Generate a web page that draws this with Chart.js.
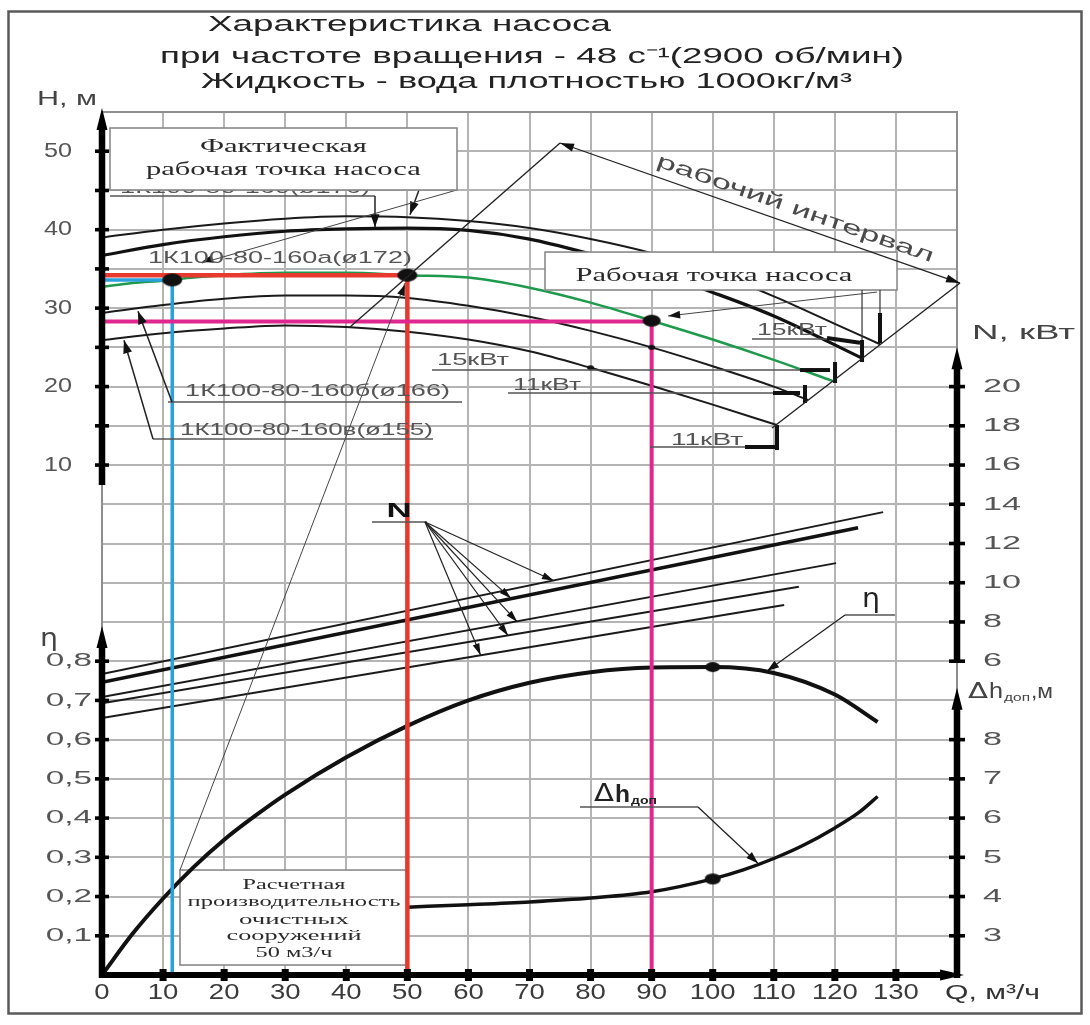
<!DOCTYPE html>
<html lang="ru">
<head>
<meta charset="utf-8">
<title>Характеристика насоса 1К100-80-160</title>
<script src="https://cdn.jsdelivr.net/npm/chart.js@4.4.1/dist/chart.umd.min.js"></script>
<style>
  html, body { margin: 0; padding: 0; background: #ffffff; }
  #wrap { width: 1090px; height: 1025px; }
  canvas { display: block; }
</style>
</head>
<body>
<div id="wrap"><canvas id="pump" width="1090" height="1025"></canvas></div>
<script>
// ===== Tick labels =====
const qTicks   = [0, 10, 20, 30, 40, 50, 60, 70, 80, 90, 100, 110, 120, 130];
const hTicks   = [10, 20, 30, 40, 50];
const etaTicks = [0.1, 0.2, 0.3, 0.4, 0.5, 0.6, 0.7, 0.8];
const nTicks   = [6, 8, 10, 12, 14, 16, 18, 20];
const dhTicks  = [3, 4, 5, 6, 7, 8];

// ===== H-Q curves (H, m) =====
const qTopA = [0, 10, 20, 30, 40, 50, 60, 70, 80, 90, 100, 110, 120, 127.4];
const hTopA = [39.0, 40.0, 40.8, 41.4, 41.7, 41.6, 41.1, 40.2, 38.8, 37.0, 34.6, 31.5, 28.0, 25.4];
const qTopB = [0, 10, 20, 30, 40, 50, 60, 70, 80, 90, 100, 110, 124.5];
const hTopB = [36.7, 38.1, 39.1, 39.8, 40.1, 40.2, 39.9, 38.8, 36.9, 34.7, 32.0, 29.0, 23.6];
const qD172 = [0, 5, 10, 15, 20, 30, 40, 50, 60, 70, 80, 90, 100, 110, 119.7];
const hD172 = [32.7, 33.2, 33.5, 33.9, 34.2, 34.5, 34.5, 34.2, 33.9, 32.6, 30.7, 28.4, 26.0, 23.4, 20.7];
const qD166 = [0, 10, 20, 30, 40, 50, 60, 70, 80, 90, 100, 110, 115.6];
const hD166 = [29.4, 30.4, 31.2, 31.6, 31.6, 31.3, 30.3, 28.9, 27.1, 25.0, 22.6, 20.0, 18.3];
const qD155 = [0, 10, 20, 30, 40, 50, 60, 70, 80, 90, 100, 110.5];
const hD155 = [25.9, 26.8, 27.4, 27.8, 27.6, 27.0, 26.0, 24.5, 22.4, 20.1, 17.7, 15.1];

// ===== Power lines N (kW) =====
const qN1 = [0, 127.9]; const vN1 = [5.35, 13.6];
const qN2 = [0, 123.8]; const vN2 = [4.93, 12.8];
const qN3 = [0, 120.2]; const vN3 = [4.17, 11.0];
const qN4 = [0, 114.1]; const vN4 = [3.86, 9.8];
const qN5 = [0, 111.7]; const vN5 = [3.1, 8.86];

// ===== Efficiency η =====
const qEta = [0, 5, 10, 15, 20, 25, 30, 40, 50, 60, 70, 80, 90, 100, 110, 120, 127];
const vEta = [0, 0.105, 0.195, 0.275, 0.345, 0.405, 0.46, 0.555, 0.635, 0.70, 0.745, 0.772, 0.784, 0.785, 0.77, 0.715, 0.645];

// ===== NPSH Δh доп (m) =====
const qDh = [50, 60, 70, 80, 90, 100, 105, 110, 115, 120, 124, 127];
const vDh = [3.73, 3.79, 3.86, 3.96, 4.12, 4.45, 4.68, 4.97, 5.32, 5.75, 6.15, 6.55];

// ===== Operating point lines (Q, H) =====
const qBlue = [0, 11.5, 11.5];  const hBlue = [33.6, 33.6, -55];
const qRed  = [0, 50, 50];      const hRed  = [34.2, 34.2, -55];
const qMag  = [0, 90, 90];      const hMag  = [28.3, 28.3, -55];

// ===== Marked points =====
const qOp = [11.5, 50];   const hOp = [33.6, 34.2];
const qWork = [90];       const hWork = [28.4];
const qEtaDot = [100];    const vEtaDot = [0.785];
const qDhDot = [100];     const vDhDot = [4.45];
const qSmall = [80, 90];  const hSmall = [22.4, 25.0];

// ---------- helpers ----------
const pts = (qs, vs) => qs.map((q, i) => ({ x: q, y: vs[i] }));
function ellipse(w, h) {
  const c = document.createElement('canvas');
  c.width = w + 2; c.height = h + 2;
  const g = c.getContext('2d');
  g.fillStyle = '#111';
  g.beginPath(); g.ellipse((w + 2) / 2, (h + 2) / 2, w / 2, h / 2, 0, 0, Math.PI * 2); g.fill();
  return c;
}
function lineDs(label, qs, vs, axis, color, width, order, smooth) {
  return { label, data: pts(qs, vs), yAxisID: axis, borderColor: color, borderWidth: width,
    pointRadius: 0, fill: false, tension: 0, order,
    cubicInterpolationMode: smooth ? 'monotone' : 'default', borderCapStyle: 'butt' };
}
function dotDs(label, qs, vs, axis, w, h, order) {
  return { label, data: pts(qs, vs), yAxisID: axis, showLine: false, pointStyle: ellipse(w, h),
    pointRadius: 6, borderWidth: 0, order };
}

// ---------- horizontally stretched tick labels ----------
const STRETCH = { x: 1.25, yH: 1.2, yEta: 1.75, yN: 1.8, yDh: 1.8 };
class WideLinearScale extends Chart.LinearScale {
  drawLabels(chartArea) {
    if (!this.options.ticks.display) return;
    const ctx = this.ctx;
    const sx = STRETCH[this.id] || 1;
    const items = this.getLabelItems(chartArea);
    for (const it of items) {
      const o = it.options;
      const label = Array.isArray(it.label) ? it.label.join(' ') : String(it.label);
      if (!label) continue;
      ctx.save();
      ctx.translate(o.translation[0], o.translation[1]);
      if (o.rotation) ctx.rotate(o.rotation);
      ctx.scale(sx, 1);
      ctx.font = it.font.string;
      ctx.fillStyle = o.color;
      ctx.textAlign = o.textAlign;
      ctx.textBaseline = o.textBaseline;
      ctx.fillText(label, 0, it.textOffset);
      ctx.restore();
    }
  }
}
WideLinearScale.id = 'wideLinear';
WideLinearScale.defaults = Chart.LinearScale.defaults;
Chart.register(WideLinearScale);

function T(ctx, s, x, y, font, w, color, align) {
  ctx.save();
  ctx.font = font;
  const m = ctx.measureText(s).width;
  const sx = w ? w / m : 1;
  ctx.translate(x, y); ctx.scale(sx, 1);
  ctx.textAlign = align || 'left'; ctx.textBaseline = 'middle';
  ctx.fillStyle = color || '#222';
  ctx.fillText(s, 0, 0);
  ctx.restore();
}
function seg(ctx, x1, y1, x2, y2, w, color) {
  ctx.save(); ctx.strokeStyle = color || '#222'; ctx.lineWidth = w || 1.3; ctx.lineCap = 'butt';
  ctx.beginPath(); ctx.moveTo(x1, y1); ctx.lineTo(x2, y2); ctx.stroke(); ctx.restore();
}
function head(ctx, x1, y1, x2, y2, L, W, color) {
  L = L || 12; W = W || 4;
  const a = Math.atan2(y2 - y1, x2 - x1), c = Math.cos(a), s = Math.sin(a);
  ctx.save(); ctx.fillStyle = color || '#111'; ctx.beginPath();
  ctx.moveTo(x2, y2);
  ctx.lineTo(x2 - L * c + W * s, y2 - L * s - W * c);
  ctx.lineTo(x2 - L * c - W * s, y2 - L * s + W * c);
  ctx.closePath(); ctx.fill(); ctx.restore();
}
function arrow(ctx, x1, y1, x2, y2, w, L, W) { seg(ctx, x1, y1, x2, y2, w || 1.3, '#222'); head(ctx, x1, y1, x2, y2, L, W); }
function box(ctx, x1, y1, x2, y2) {
  ctx.save(); ctx.fillStyle = '#fff'; ctx.fillRect(x1, y1, x2 - x1, y2 - y1);
  ctx.strokeStyle = '#8a8a8a'; ctx.lineWidth = 1.6; ctx.strokeRect(x1, y1, x2 - x1, y2 - y1); ctx.restore();
}
function vAxis(ctx, x, yb, yt) {
  seg(ctx, x, yb, x, yt + 16, 6.5, '#000');
  ctx.save(); ctx.fillStyle = '#000'; ctx.beginPath();
  ctx.moveTo(x, yt); ctx.lineTo(x - 5.5, yt + 22); ctx.lineTo(x + 5.5, yt + 22); ctx.closePath(); ctx.fill(); ctx.restore();
}

const annot = {
  id: 'annot',
  beforeDatasetsDraw(chart) {
    const ctx = chart.ctx, s = chart.scales;
    const X = v => s.x.getPixelForValue(v), Y = v => s.yH.getPixelForValue(v);
    box(ctx, X(12.77), Y(-41.62), X(50.1), Y(-53.73));
  },
  afterDatasetsDraw(chart) {
    const ctx = chart.ctx, s = chart.scales;
    const X = v => s.x.getPixelForValue(v);
    const Y = v => s.yH.getPixelForValue(v);
    const YE = v => s.yEta.getPixelForValue(v);
    const YN = v => s.yN.getPixelForValue(v);
    const YD = v => s.yDh.getPixelForValue(v);
    const x0 = X(0), x1 = X(140), yTop = Y(55), yBot = Y(-55);
    const serif = 'Liberation Serif', sans = 'Liberation Sans';

    // frame
    ctx.save(); ctx.strokeStyle = '#8e8e8e'; ctx.lineWidth = 2;
    ctx.beginPath(); ctx.moveTo(x0, yBot); ctx.lineTo(x0, yTop); ctx.lineTo(x1, yTop); ctx.lineTo(x1, yBot); ctx.stroke(); ctx.restore();

    // thick axes with arrows
    vAxis(ctx, x0, Y(7.45), Y(55.5));
    vAxis(ctx, x0, YE(0) + 3, YE(0.89));
    vAxis(ctx, x1, YN(6), YN(22));
    vAxis(ctx, x1, YD(2) + 3, YD(9.32));
    seg(ctx, x0 - 3, yBot, X(140.5) - 16, yBot, 6, '#000');
    ctx.save(); ctx.fillStyle = '#000'; ctx.beginPath();
    ctx.moveTo(X(140.5) + 4, yBot); ctx.lineTo(X(140.5) - 20, yBot - 5.5); ctx.lineTo(X(140.5) - 20, yBot + 5.5); ctx.closePath(); ctx.fill(); ctx.restore();

    // tick marks on axes (at the library's grid ticks)
    ctx.save(); ctx.fillStyle = '#000';
    for (const t of s.yEta.ticks) {
      const y = YE(t.value);
      const h = s.yH.getValueForPixel(y), n = s.yN.getValueForPixel(y), d = s.yDh.getValueForPixel(y);
      if ((t.value > 0.05 && t.value < 0.85) || (h > 9.9 && h < 50.1)) ctx.fillRect(x0 - 7, y - 1.8, 14, 3.6);
      if ((n > 5.9 && n < 20.1) || (d > 2.9 && d < 8.1)) ctx.fillRect(x1 - 8, y - 1.8, 16, 3.6);
    }
    for (const q of qTicks) { if (q > 0) ctx.fillRect(X(q) - 3.5, yBot - 6, 7, 12); }
    ctx.restore();

    // ---- calc box text + leader ----
    const calcLines = ['Расчетная', 'производительность', 'очистных', 'сооружений', '50 м3/ч'];
    const calcH = [-43.53, -45.7, -48.0, -50.04, -52.2];
    const calcW = [103, 213, 110, 135, 77];
    calcLines.forEach((t, i) => T(ctx, t, X(31.44), Y(calcH[i]), '15px ' + serif, calcW[i], '#2a2a2a', 'center'));
    seg(ctx, X(12.77), Y(-41.62), X(49.6), Y(33.2), 1, '#444');
    head(ctx, X(12.77), Y(-41.62), X(49.6), Y(33.0), 11, 4);

    // ---- hidden label under "Фактическая" box ----
    T(ctx, '1К100-80-160(ø176)', X(2.95), Y(45.25), '17px ' + sans, 250, '#555');
    seg(ctx, X(1.31), Y(44.29), X(44.7), Y(44.29), 1.5, '#555');
    arrow(ctx, X(44.7), Y(44.29), X(44.7), Y(40.3), 1.5, 13, 4.5);
    arrow(ctx, X(51.9), Y(45.06), X(50.43), Y(41.9), 1.5, 13, 4.5);
    // ø172 leader
    seg(ctx, X(58.13), Y(45.06), X(16.37), Y(35.75), 1, '#444');
    head(ctx, X(58.13), Y(45.06), X(16.37), Y(35.9), 11, 4);

    // ---- "Фактическая рабочая точка насоса" box ----
    box(ctx, X(1.31), Y(52.96), X(58.13), Y(45.06));
    T(ctx, 'Фактическая', X(29.7), Y(50.54), '19px ' + serif, 167, '#2a2a2a', 'center');
    T(ctx, 'рабочая точка насоса', X(29.7), Y(47.6), '19px ' + serif, 275, '#2a2a2a', 'center');

    // ---- curve labels ----
    T(ctx, '1К100-80-160а(ø172)', X(7.53), Y(36.39), '17px ' + sans, 264, '#555');
    T(ctx, '1К100-80-160б(ø166)', X(13.6), Y(19.44), '17px ' + sans, 265, '#555');
    seg(ctx, X(10.81), Y(18.03), X(58.95), Y(18.03), 1.5, '#555');
    arrow(ctx, X(11.46), Y(18.03), X(5.89), Y(29.6), 1.5, 13, 4.5);
    T(ctx, '1К100-80-160в(ø155)', X(12.77), Y(14.46), '17px ' + sans, 253, '#555');
    seg(ctx, X(8.35), Y(13.32), X(54.2), Y(13.32), 1.5, '#555');
    arrow(ctx, X(8.35), Y(13.32), X(3.6), Y(25.9), 1.5, 13, 4.5);

    // ---- "Рабочая точка насоса" box ----
    box(ctx, X(72.54), Y(37.15), X(130.18), Y(32.31));
    T(ctx, 'Рабочая точка насоса', X(100.2), Y(34.1), '19px ' + serif, 277, '#2a2a2a', 'center');
    seg(ctx, X(126.9), Y(32.05), X(92.7), Y(29.0), 1, '#444');
    head(ctx, X(126.9), Y(32.05), X(92.7), Y(29.0), 12, 4);
    seg(ctx, X(127.39), Y(32.31), X(127.39), Y(29.38), 1.2, '#333');
    seg(ctx, X(127.39), Y(29.38), X(127.39), Y(25.55), 4, '#111');
    seg(ctx, X(124.45), Y(32.31), X(124.45), Y(25.94), 1.2, '#333');
    seg(ctx, X(124.45), Y(25.94), X(124.45), Y(23.13), 4, '#111');

    // ---- power labels (кВт) ----
    T(ctx, '15кВт', X(54.86), Y(23.26), '16px ' + sans, 72, '#555');
    seg(ctx, X(54.04), Y(22.11), X(114.3), Y(22.11), 1.5, '#555');
    seg(ctx, X(114.3), Y(22.11), X(119.21), Y(22.11), 4, '#111');
    seg(ctx, X(120.03), Y(23.13), X(120.03), Y(20.46), 4, '#111');
    T(ctx, '11кВт', X(67.3), Y(20.07), '16px ' + sans, 68, '#555');
    seg(ctx, X(66.48), Y(19.18), X(109.87), Y(19.18), 1.5, '#555');
    seg(ctx, X(109.87), Y(19.18), X(114.3), Y(19.18), 4, '#111');
    seg(ctx, X(115.11), Y(20.2), X(115.11), Y(17.91), 4, '#111');
    T(ctx, '15кВт', X(107.25), Y(27.08), '16px ' + sans, 70, '#555');
    seg(ctx, X(106.43), Y(26.06), X(118.72), Y(26.06), 1.5, '#555');
    seg(ctx, X(118.72), Y(26.2), X(124.12), Y(25.6), 4, '#111');
    T(ctx, '11кВт', X(93.17), Y(13.06), '16px ' + sans, 72, '#555');
    seg(ctx, X(89.73), Y(12.3), X(105.29), Y(12.3), 1.5, '#555');
    seg(ctx, X(105.29), Y(12.3), X(110.53), Y(12.3), 4, '#111');
    seg(ctx, X(110.53), Y(15.1), X(110.53), Y(11.91), 4, '#111');

    // ---- working interval bracket ----
    seg(ctx, X(40.61), Y(27.6), X(75.0), Y(51.05), 1.4, '#222');
    seg(ctx, X(140.49), Y(33.2), X(109.71), Y(14.72), 1.4, '#222');
    arrow(ctx, X(75.0), Y(51.05), X(140.49), Y(33.2), 1.3, 14, 4);
    head(ctx, X(140.49), Y(33.2), X(75.0), Y(51.05), 14, 4);
    const ang = Math.atan2(Y(33.2) - Y(51.05), X(140.49) - X(75.0));
    ctx.save(); ctx.translate(X(113.5), Y(42.64)); ctx.rotate(ang);
    ctx.font = '20px ' + sans;
    const wInt = ctx.measureText('рабочий интервал').width;
    ctx.scale(292 / wInt, 1); ctx.textAlign = 'center'; ctx.textBaseline = 'middle'; ctx.fillStyle = '#4a4a4a';
    ctx.fillText('рабочий интервал', 0, 0); ctx.restore();

    // ---- N label + fan ----
    T(ctx, 'N', X(48.63), Y(4.14), 'bold 20px ' + sans, 25, '#111', 'center');
    seg(ctx, X(44.21), Y(2.74), X(53.22), Y(2.74), 1.5, '#555');
    const fanQ = [74, 67, 68, 66.5, 62], fanN = [10.1, 9.2, 8.0, 7.3, 6.3];
    fanQ.forEach((q, i) => arrow(ctx, X(52.89), Y(2.74), X(q), YN(fanN[i]), 1.2, 12, 3.5));

    // ---- η label ----
    T(ctx, 'η', X(125.92), Y(-7.2), '26px DejaVu Sans', 18, '#222', 'center');
    seg(ctx, X(121.66), Y(-9.12), X(129.85), Y(-9.12), 1.5, '#555');
    arrow(ctx, X(121.66), Y(-9.12), X(108.9), YE(0.775), 1.3, 12, 4);

    // ---- Δh доп label ----
    T(ctx, 'Δ', X(80.56), Y(-32.06), '24px DejaVu Sans', 20, '#222');
    T(ctx, 'h', X(80.56) + 21, Y(-32.06), 'bold 24px ' + sans, 15, '#222');
    T(ctx, 'доп', X(80.56) + 37, Y(-32.06) + 6, 'bold 11px ' + sans, 26, '#222');
    seg(ctx, X(78.27), Y(-33.59), X(97.59), Y(-33.59), 1.5, '#555');
    arrow(ctx, X(97.59), Y(-33.59), X(107.4), YD(4.85), 1.3, 12, 4);

    // ---- axis names ----
    T(ctx, 'H, м', 37, 99, '20px ' + sans, 60, '#444');
    T(ctx, 'η', 40, 640, '24px DejaVu Sans', 18, '#444');
    T(ctx, 'N, кВт', 972, 333, '20px ' + sans, 103, '#444');
    T(ctx, 'Δ', 968, 692, '22px DejaVu Sans', 20, '#444');
    T(ctx, 'h', 989, 692, '22px ' + sans, 14, '#444');
    T(ctx, 'доп', 1004, 698, '11px ' + sans, 26, '#444');
    T(ctx, ',м', 1031, 692, '20px ' + sans, 22, '#444');
    T(ctx, 'Q, м³/ч', 945, 993, '20px ' + sans, 95, '#333');

    // ---- title ----
    T(ctx, 'Характеристика насоса', 208, 25, '22px ' + sans, 403, '#222');
    T(ctx, 'при частоте вращения - 48 с⁻¹(2900 об/мин)', 160, 57, '22px ' + sans, 744, '#222');
    T(ctx, 'Жидкость - вода плотностью 1000кг/м³', 201, 82, '22px ' + sans, 651, '#222');

    // outer border
    ctx.save(); ctx.strokeStyle = '#5a5a5a'; ctx.lineWidth = 2.5; ctx.strokeRect(8.5, 11.5, 1073, 1002); ctx.restore();
  }
};

const GRID = '#b4b4b4';
const tickFont = (size) => ({ family: 'Liberation Sans', size });

new Chart(document.getElementById('pump'), {
  type: 'line',
  data: {
    datasets: [
      dotDs('Рабочие точки', qOp, hOp, 'yH', 20, 13, 0),
      dotDs('Рабочая точка насоса', qWork, hWork, 'yH', 18, 12, 0),
      dotDs('η max', qEtaDot, vEtaDot, 'yEta', 15, 10, 0),
      dotDs('Δh при 100', qDhDot, vDhDot, 'yDh', 16, 11, 0),
      dotDs('метки', qSmall, hSmall, 'yH', 7, 5, 0),
      lineDs('Q=90', qMag, hMag, 'yH', '#e0268f', 4, 1, false),
      lineDs('Q=50', qRed, hRed, 'yH', '#e8392e', 4.5, 1, false),
      lineDs('Q=11.5', qBlue, hBlue, 'yH', '#2aa0dc', 3.5, 1, false),
      lineDs('1К100-80-160а(ø172)', qD172, hD172, 'yH', '#1e9a4c', 2.5, 2, true),
      lineDs('1К100-80-160(ø176)', qTopA, hTopA, 'yH', '#1a1a1a', 2, 3, true),
      lineDs('1К100-80-160(ø176) б', qTopB, hTopB, 'yH', '#111', 3.2, 3, true),
      lineDs('1К100-80-160б(ø166)', qD166, hD166, 'yH', '#1a1a1a', 2, 3, true),
      lineDs('1К100-80-160в(ø155)', qD155, hD155, 'yH', '#1a1a1a', 2, 3, true),
      lineDs('N1', qN1, vN1, 'yN', '#1a1a1a', 2, 3, false),
      lineDs('N2', qN2, vN2, 'yN', '#111', 3.5, 3, false),
      lineDs('N3', qN3, vN3, 'yN', '#1a1a1a', 2, 3, false),
      lineDs('N4', qN4, vN4, 'yN', '#1a1a1a', 2, 3, false),
      lineDs('N5', qN5, vN5, 'yN', '#1a1a1a', 2, 3, false),
      lineDs('η', qEta, vEta, 'yEta', '#111', 4, 3, true),
      lineDs('Δh доп', qDh, vDh, 'yDh', '#111', 3.5, 3, true)
    ]
  },
  options: {
    responsive: false,
    animation: false,
    devicePixelRatio: 1,
    events: [],
    layout: { padding: { top: 112, left: 0, right: 0, bottom: 0 } },
    plugins: { legend: { display: false }, tooltip: { enabled: false }, title: { display: false } },
    scales: {
      x: {
        type: 'wideLinear', position: 'bottom', min: 0, max: 140,
        afterBuildTicks: sc => { sc.ticks = qTicks.map(v => ({ value: v })); },
        afterFit: sc => { sc.height = 50; },
        grid: { color: GRID, lineWidth: 2, drawTicks: false },
        border: { display: false },
        ticks: { font: tickFont(22), color: '#3a3a3a', padding: 5, autoSkip: false, maxRotation: 0 }
      },
      yEta: {
        type: 'wideLinear', position: 'left', weight: 0, min: 0, max: 2.2,
        afterFit: sc => { sc.width = 0; },
        grid: { color: GRID, lineWidth: 2, drawTicks: false },
        border: { display: false },
        ticks: {
          stepSize: 0.1, autoSkip: false, font: tickFont(19), color: '#555', padding: 10,
          callback: v => etaTicks.some(t => Math.abs(t - v) < 1e-6) ? v.toFixed(1).replace('.', ',') : ''
        }
      },
      yH: {
        type: 'wideLinear', position: 'left', weight: 1, min: -55, max: 55,
        afterBuildTicks: sc => { sc.ticks = hTicks.map(v => ({ value: v })); },
        afterFit: sc => { sc.width = 102; },
        grid: { display: false },
        border: { display: false },
        ticks: { font: tickFont(21), color: '#555', padding: 22, autoSkip: false }
      },
      yDh: {
        type: 'wideLinear', position: 'right', weight: 0, min: 2, max: 24,
        afterBuildTicks: sc => { sc.ticks = dhTicks.map(v => ({ value: v })); },
        afterFit: sc => { sc.width = 0; },
        grid: { display: false },
        border: { display: false },
        ticks: { font: tickFont(19), color: '#555', padding: 18, autoSkip: false }
      },
      yN: {
        type: 'wideLinear', position: 'right', weight: 1, min: -10, max: 34,
        afterBuildTicks: sc => { sc.ticks = nTicks.map(v => ({ value: v })); },
        afterFit: sc => { sc.width = 133; },
        grid: { display: false },
        border: { display: false },
        ticks: { font: tickFont(19), color: '#555', padding: 18, autoSkip: false }
      }
    }
  },
  plugins: [annot]
});
</script>
</body>
</html>
